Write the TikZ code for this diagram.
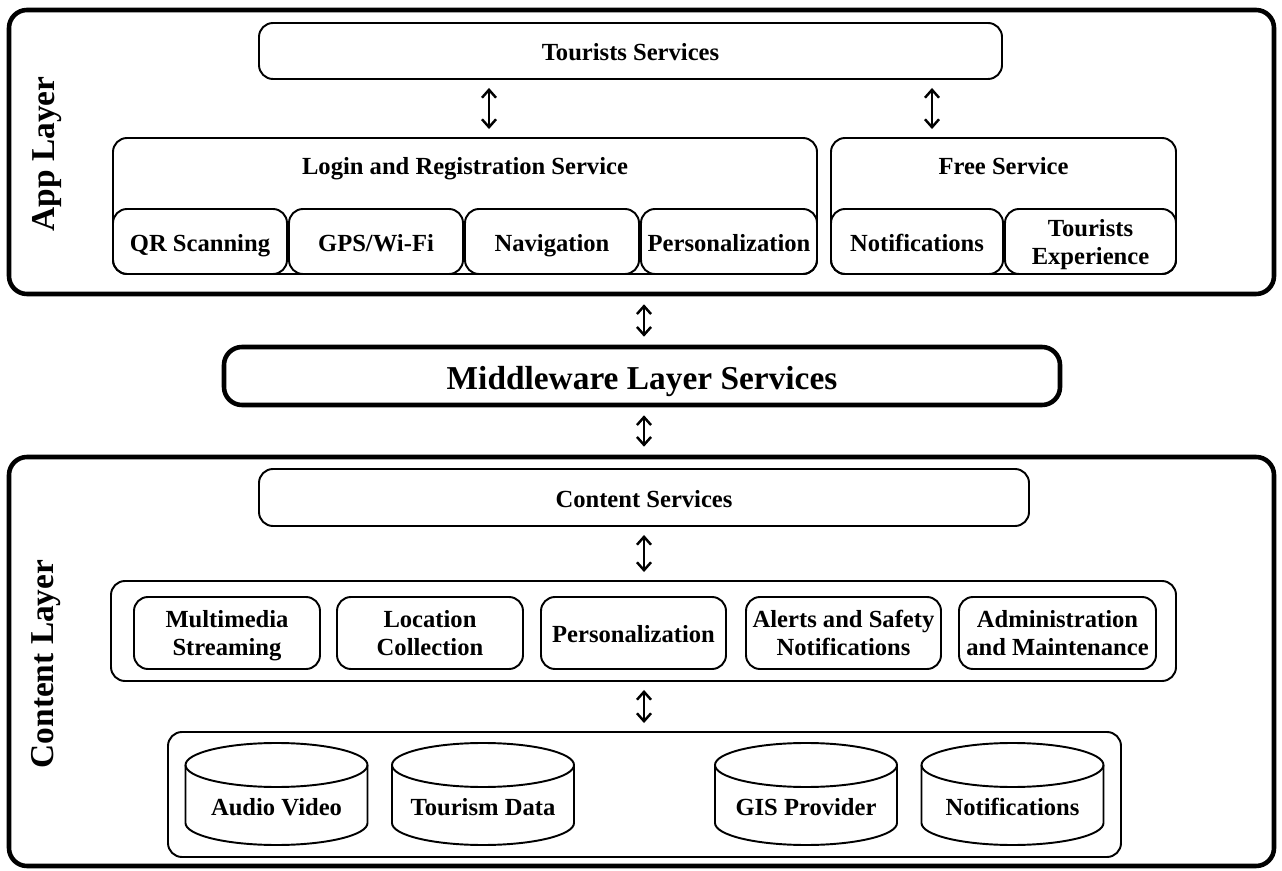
\documentclass[tikz,border=0pt]{standalone}
\usepackage{fontspec}
\setmainfont{Liberation Serif}
\usetikzlibrary{shapes.geometric, arrows.meta, calc, positioning}
\newlength{\px}
\setlength{\px}{0.02cm}
\newcommand{\topstrut}{\rule{0pt}{15pt}}
\newcommand{\botstrut}{\rule[-4pt]{0pt}{4pt}}
\tikzstyle{layer} = [rectangle, rounded corners=18\px, line width=2.6pt, draw=black, inner sep=0pt]
\tikzstyle{block} = [rectangle, rounded corners=14\px, line width=1.1pt, draw=black, align=center, inner sep=0pt, font=\fontsize{14}{16}\selectfont\bfseries, execute at begin node=\topstrut, execute at end node=\botstrut]
\tikzstyle{twoline} = [text height=30pt, text depth=4pt]
\tikzstyle{title} = [inner sep=0pt, text height=10pt, text depth=3pt, font=\fontsize{14}{16}\selectfont\bfseries]
\tikzstyle{side} = [rotate=90, inner sep=0pt, font=\fontsize{19}{22}\selectfont\bfseries]
\tikzstyle{store} = [rectangle, inner sep=0pt, outer sep=0pt, minimum width=182\px, minimum height=102\px, text height=24pt, text depth=0pt, font=\fontsize{14}{16}\selectfont\bfseries]
\tikzstyle{arrow} = [line width=1.4pt, <->, >={Straight Barb[length=4.5pt,width=8pt]}, shorten <=8\px, shorten >=8\px]

\begin{document}
\begin{tikzpicture}[x=0.02cm, y=-0.02cm]
	\useasboundingbox (0,0) rectangle (1282,871);
	% app layer
	\node (AppLayer) [layer, minimum width=1265\px, minimum height=284\px] at (641.5,152) {};
	\node (AppLabel) [side] at (47,154) {App Layer};
	\node (TouristsServices) [block, minimum width=743\px, minimum height=56\px] at (630.5,51) {Tourists Services};
	\node (LoginService) [block, minimum width=704\px, minimum height=136\px] at (465,206) {};
	\node (LoginTitle) [title] at (465,168) {Login and Registration Service};
	\node (QRScanning) [block, minimum width=174\px, minimum height=65\px] at (200,241.5) {QR Scanning};
	\node (GPSWiFi) [block, minimum width=174\px, minimum height=65\px] at (376,241.5) {GPS/Wi-Fi};
	\node (Navigation) [block, minimum width=174\px, minimum height=65\px] at (552,241.5) {Navigation};
	\node (AppPersonalization) [block, minimum width=176\px, minimum height=65\px] at (729,241.5) {Personalization};
	\node (FreeService) [block, minimum width=345\px, minimum height=136\px] at (1003.5,206) {};
	\node (FreeTitle) [title] at (1003.5,168) {Free Service};
	\node (AppNotifications) [block, minimum width=172\px, minimum height=65\px] at (917,241.5) {Notifications};
	\node (TouristsExperience) [block, twoline, minimum width=171\px, minimum height=65\px] at (1090.5,241.5) {Tourists\\Experience};
	\coordinate (LeftLink) at (489,0);
	\coordinate (RightLink) at (932,0);
	\coordinate (MidLink) at (644,0);
	\draw [arrow] (TouristsServices.south -| LeftLink) -- (LoginService.north -| LeftLink);
	\draw [arrow] (TouristsServices.south -| RightLink) -- (FreeService.north -| RightLink);
	% middleware
	\node (Middleware) [layer, minimum width=836\px, minimum height=58\px, text height=16pt, text depth=1pt, font=\fontsize{19}{22}\selectfont\bfseries] at (642,376) {Middleware Layer Services};
	\draw [arrow] (AppLayer.south -| MidLink) -- (Middleware.north -| MidLink);
	% content layer
	\node (ContentLayer) [layer, minimum width=1265\px, minimum height=409\px] at (641.5,661.5) {};
	\draw [arrow] (Middleware.south -| MidLink) -- (ContentLayer.north -| MidLink);
	\node (ContentLabel) [side] at (46,664) {Content Layer};
	\node (ContentServices) [block, minimum width=770\px, minimum height=57\px] at (644,497.5) {Content Services};
	\node (ContentModules) [block, minimum width=1065\px, minimum height=100\px] at (643.5,631) {};
	\node (Multimedia) [block, twoline, minimum width=186\px, minimum height=72\px] at (227,633) {Multimedia\\Streaming};
	\node (Location) [block, twoline, minimum width=186\px, minimum height=72\px] at (430,633) {Location\\Collection};
	\node (ContentPersonalization) [block, minimum width=185\px, minimum height=72\px] at (633.5,633) {Personalization};
	\node (Alerts) [block, twoline, minimum width=195\px, minimum height=72\px] at (843.5,633) {Alerts and Safety\\Notifications};
	\node (Administration) [block, twoline, minimum width=197\px, minimum height=72\px] at (1057.5,633) {Administration\\and Maintenance};
	\draw [arrow] (ContentServices.south -| MidLink) -- (ContentModules.north -| MidLink);
	\node (DataSources) [block, minimum width=953\px, minimum height=125\px] at (644.5,794.5) {};
	\draw [arrow] (ContentModules.south -| MidLink) -- (DataSources.north -| MidLink);
	\node (AudioVideo) [store] at (276.5,794) {Audio Video};
	\node (TourismData) [store] at (483,794) {Tourism Data};
	\node (GISProvider) [store] at (806,794) {GIS Provider};
	\node (DataNotifications) [store] at (1012.5,794) {Notifications};
	\foreach \db in {AudioVideo, TourismData, GISProvider, DataNotifications} {
		\draw [line width=1.1pt] ($(\db.north)+(0,22)$) ellipse [x radius=91\px, y radius=22\px];
		\draw [line width=1.1pt] ($(\db.north west)+(0,22)$) -- ($(\db.south west)+(0,-22)$) arc [start angle=180, end angle=360, x radius=91\px, y radius=22\px] -- ($(\db.north east)+(0,22)$);
	}
\end{tikzpicture}
\end{document}
